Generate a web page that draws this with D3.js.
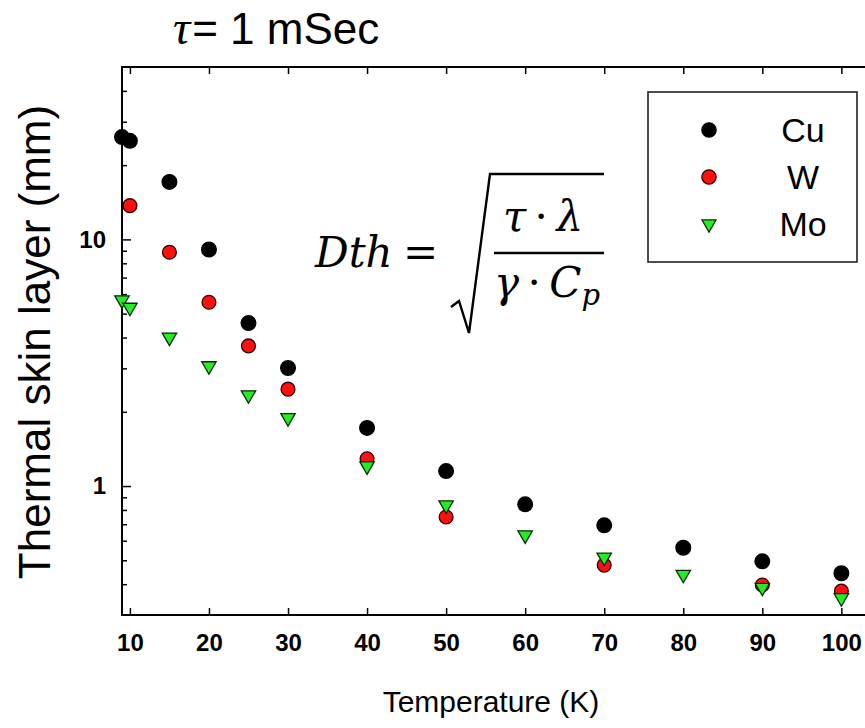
<!DOCTYPE html>
<html>
<head>
<meta charset="utf-8">
<script src="https://cdn.jsdelivr.net/npm/d3@7"></script>
<style>
  html, body { margin: 0; padding: 0; background: #fff; }
  svg { display: block; }
</style>
</head>
<body>
<svg id="chart" width="865" height="728"></svg>
<script>
// Thermal skin layer depth vs temperature for a 1 ms pulse
const temps   = [9, 10, 15, 20, 25, 30, 40, 50, 60, 70, 80, 90, 100];
const cuDepth = [26.0, 25.1, 17.1, 9.1, 4.58, 3.01, 1.72, 1.15, 0.843, 0.693, 0.562, 0.495, 0.443];
const wTemps  = [10, 15, 20, 25, 30, 40, 50, 70, 90, 100];
const wDepth  = [13.7, 8.87, 5.56, 3.70, 2.47, 1.29, 0.749, 0.478, 0.397, 0.375];
const moDepth = [5.68, 5.30, 4.01, 3.07, 2.34, 1.89, 1.205, 0.837, 0.633, 0.514, 0.438, 0.388, 0.352];
const xTicks  = [10, 20, 30, 40, 50, 60, 70, 80, 90, 100];
const yMajor  = [1, 10];
const yMinor  = [0.4, 0.5, 0.6, 0.7, 0.8, 0.9, 2, 3, 4, 5, 6, 7, 8, 9, 20, 30, 40];
const seriesNames = ["Cu", "W", "Mo"];

const svg = d3.select("#chart");
const plotL = 122, plotT = 67, plotB = 615, plotR = 873;

const x = d3.scaleLinear().domain([9, 104]).range([plotL, plotR]);
const y = d3.scaleLog().domain([0.3, 50]).range([plotB, plotT]);

const sans = "Arial, 'Liberation Sans', sans-serif";
const serif = "'Liberation Serif', 'Times New Roman', serif";
const mathFont = "'DejaVu Serif', serif";

// frame
svg.append("path")
  .attr("d", `M${plotR + 10},${plotT}H${plotL}V${plotB}H${plotR + 10}`)
  .attr("fill", "none").attr("stroke", "#000").attr("stroke-width", 2);

// bottom axis (ticks point inward)
const xAxis = d3.axisBottom(x).tickValues(xTicks).tickSizeInner(-7).tickSizeOuter(0).tickPadding(19);
const gx = svg.append("g").attr("transform", `translate(0,${plotB})`).call(xAxis);
gx.select(".domain").remove();
gx.selectAll(".tick line").attr("stroke", "#000").attr("stroke-width", 1.5);
gx.selectAll(".tick text").attr("font-family", sans).attr("font-weight", "bold")
  .attr("font-size", 24).attr("fill", "#000");

// top axis mirror ticks
const gt = svg.append("g").attr("transform", `translate(0,${plotT})`)
  .call(d3.axisTop(x).tickValues(xTicks).tickSizeInner(-7).tickSizeOuter(0).tickFormat(""));
gt.select(".domain").remove();
gt.selectAll(".tick line").attr("stroke", "#000").attr("stroke-width", 1.5);

// left axis: labelled decades and minor ticks
const gy = svg.append("g").attr("transform", `translate(${plotL},0)`)
  .call(d3.axisLeft(y).tickValues(yMajor).tickSizeInner(-9).tickSizeOuter(0)
        .tickPadding(16).tickFormat(d3.format("d")));
gy.select(".domain").remove();
gy.selectAll(".tick line").attr("stroke", "#000").attr("stroke-width", 1.5);
gy.selectAll(".tick text").attr("font-family", sans).attr("font-weight", "bold")
  .attr("font-size", 24).attr("fill", "#000");

const gym = svg.append("g").attr("transform", `translate(${plotL},0)`)
  .call(d3.axisLeft(y).tickValues(yMinor).tickSizeInner(-5).tickSizeOuter(0).tickFormat(""));
gym.select(".domain").remove();
gym.selectAll(".tick line").attr("stroke", "#000").attr("stroke-width", 1.5);

// axis titles
svg.append("text").attr("x", 491).attr("y", 712).attr("text-anchor", "middle")
  .attr("font-family", sans).attr("font-size", 30).text("Temperature (K)");
svg.append("text").attr("transform", "translate(50,342) rotate(-90)").attr("text-anchor", "middle")
  .attr("font-family", sans).attr("font-size", 44).text("Thermal skin layer (mm)");

// title
const title = svg.append("text").attr("x", 173).attr("y", 44).attr("font-family", sans).attr("font-size", 44);
title.append("tspan").attr("font-family", serif).attr("font-style", "italic").attr("font-size", 48).text("τ");
title.append("tspan").attr("dx", 2).text("= 1 mSec");

// markers
const styles = {
  Cu: { fill: "#000000", stroke: "#000000", shape: d3.symbolCircle, size: 170 },
  W:  { fill: "#ff1010", stroke: "#300000", shape: d3.symbolCircle, size: 150 },
  Mo: { fill: "#22ee22", stroke: "#0a2a0a", shape: d3.symbolTriangle, size: 90 }
};
const series = [
  { name: "Cu", pts: temps.map((t, i) => [t, cuDepth[i]]) },
  { name: "W",  pts: wTemps.map((t, i) => [t, wDepth[i]]) },
  { name: "Mo", pts: temps.map((t, i) => [t, moDepth[i]]) }
];

series.forEach(s => {
  const st = styles[s.name];
  svg.append("g").selectAll("path").data(s.pts).join("path")
    .attr("d", d3.symbol().type(st.shape).size(st.size))
    .attr("transform", d => `translate(${x(d[0])},${y(d[1])})` + (st.shape === d3.symbolTriangle ? " rotate(180)" : ""))
    .attr("fill", st.fill).attr("stroke", st.stroke).attr("stroke-width", 1.3);
});

// legend
svg.append("rect").attr("x", 648).attr("y", 92).attr("width", 209).attr("height", 170)
  .attr("fill", "#fff").attr("stroke", "#222").attr("stroke-width", 1.6);
const legY = d3.scalePoint().domain(seriesNames).range([130, 224]);
seriesNames.forEach(n => {
  const st = styles[n];
  svg.append("path")
    .attr("d", d3.symbol().type(st.shape).size(n === "Mo" ? 85 : 160))
    .attr("transform", `translate(709,${legY(n)})` + (st.shape === d3.symbolTriangle ? " rotate(180)" : ""))
    .attr("fill", st.fill).attr("stroke", st.stroke).attr("stroke-width", 1.3);
  svg.append("text").attr("x", 803).attr("y", legY(n) + 12).attr("text-anchor", "middle")
    .attr("font-family", sans).attr("font-size", 34).text(n);
});

// formula Dth = sqrt(tau*lambda / (gamma*Cp))
const fs = 42;
svg.append("text").attr("x", 315).attr("y", 267).attr("font-family", mathFont)
  .attr("font-style", "italic").attr("font-size", fs).text("Dth");
svg.append("text").attr("x", 403).attr("y", 267).attr("font-family", mathFont)
  .attr("font-size", fs).text("=");
svg.append("path")
  .attr("d", "M451,307 L459,301 L469,333 L490,174 L604,174")
  .attr("fill", "none").attr("stroke", "#000").attr("stroke-width", 2.4).attr("stroke-linejoin", "miter");
svg.append("line").attr("x1", 494).attr("x2", 604).attr("y1", 253).attr("y2", 253)
  .attr("stroke", "#000").attr("stroke-width", 2.4);
const num = svg.append("text").attr("x", 543).attr("y", 231).attr("text-anchor", "middle")
  .attr("font-family", mathFont).attr("font-size", fs);
num.append("tspan").attr("font-style", "italic").text("τ");
num.append("tspan").text("\u2009·\u2009");
num.append("tspan").attr("font-style", "italic").text("λ");
const den = svg.append("text").attr("x", 494).attr("y", 297)
  .attr("font-family", mathFont).attr("font-size", fs);
den.append("tspan").attr("font-style", "italic").text("γ");
den.append("tspan").text("\u2009·\u2009");
den.append("tspan").attr("font-style", "italic").text("C");
den.append("tspan").attr("font-style", "italic").attr("font-size", 29).attr("dy", 8).text("p");
</script>
</body>
</html>
